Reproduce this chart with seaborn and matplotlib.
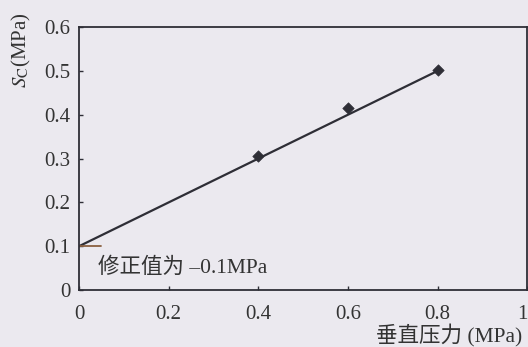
import numpy as np
import pandas as pd
import seaborn as sns
import matplotlib.pyplot as plt

# test points and the fitted line
load_x = [0.4, 0.6, 0.8]
shear_y = [0.305, 0.415, 0.503]
fit_x = [0.0, 0.8]
fit_y = [0.1, 0.5]
x_ticks = [0, 0.2, 0.4, 0.6, 0.8, 1]
y_ticks = [0, 0.1, 0.2, 0.3, 0.4, 0.5, 0.6]
x_labels = ["0", "0.2", "0.4", "0.6", "0.8", "1"]
y_labels = ["0", "0.1", "0.2", "0.3", "0.4", "0.5", "0.6"]

sns.set_style("ticks")
plt.rcParams['font.family'] = ['Liberation Serif', 'Noto Sans CJK SC']
plt.rcParams['mathtext.fontset'] = 'stix'

bg = "#ebe9ef"
ink = "#2e2e36"

fig = plt.figure(figsize=(5.28, 3.47), dpi=100, facecolor=bg)
ax = fig.add_axes([0.1496, 0.164, 0.849, 0.758])
ax.set_facecolor(bg)

pts = pd.DataFrame({"x": load_x, "y": shear_y})
fit = pd.DataFrame({"x": fit_x, "y": fit_y})

sns.lineplot(data=fit, x="x", y="y", color=ink, linewidth=1.6, ax=ax)
sns.scatterplot(data=pts, x="x", y="y", marker="D", s=34, color=ink,
                edgecolor=ink, zorder=3, ax=ax)

# short mark at the intercept
ax.plot([0, 0.05], [0.1, 0.1], color="#8a6040", linewidth=1.3)

ax.set_xlim(0, 1)
ax.set_ylim(0, 0.6)
ax.set_xticks(x_ticks)
ax.set_xticklabels(x_labels)
ax.set_yticks(y_ticks)
ax.set_yticklabels(y_labels)
ax.tick_params(direction="in", length=3, width=1, colors=ink, labelsize=15,
               labelcolor="#333333")
ax.tick_params(axis="x", pad=11)
ax.tick_params(axis="y", pad=6)
# last x label sits on the right edge
ax.get_xticklabels()[-1].set_ha("right")
for s in ax.spines.values():
    s.set_color(ink)
    s.set_linewidth(1.3)
ax.set_xlabel("")
ax.set_ylabel("")

ax.text(0.042, 0.05, "修正值为 –0.1MPa", fontsize=15.5, color="#333333",
        va="center", ha="left")

fig.text(0.99, 0.0, "垂直压力 (MPa)", fontsize=15.5, color="#333333",
         ha="right", va="bottom")
fig.text(0.04, 0.855, r"$S_\mathrm{C}$(MPa)", fontsize=15, color="#333333",
         rotation=90, ha="center", va="center")

fig.savefig("out.png", dpi=100, facecolor=bg)
